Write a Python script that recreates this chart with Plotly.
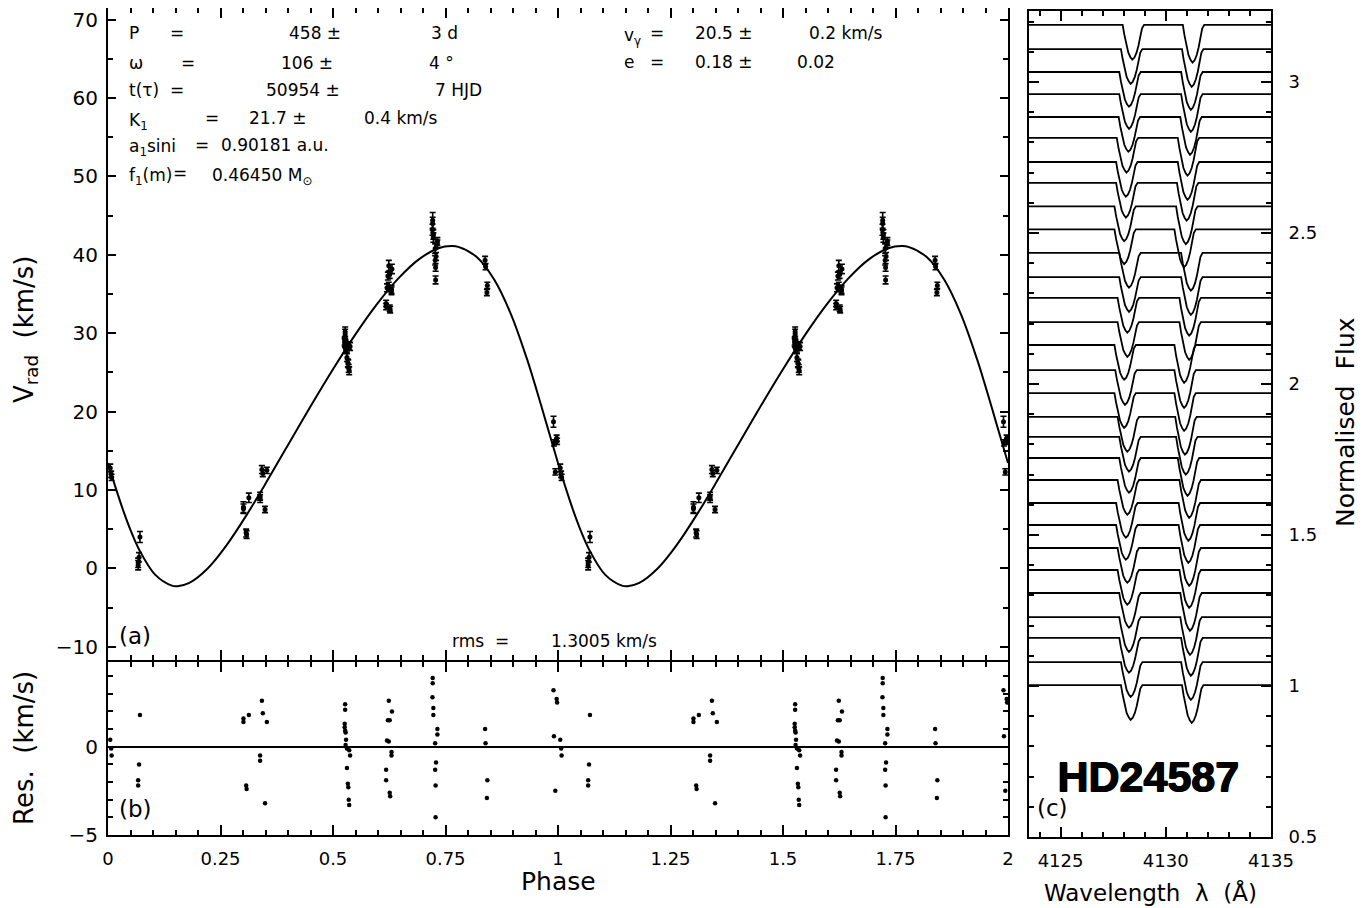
import plotly.graph_objects as go

W, H = 1367, 908
PAGE_OFFSET = 8  # the page body margin shifts the figure by this many pixels

# ---------------- Panel (a): fitted orbit curve (one cycle) ----------------
CURVE_PHASE = [0.0000, 0.0171, 0.0343, 0.0515, 0.0690, 0.1047, 0.1419, 0.1546, 0.1807, 0.2214,
               0.2640, 0.3085, 0.3547, 0.4023, 0.4509, 0.5000, 0.5491, 0.5977, 0.6453, 0.6915,
               0.7360, 0.7624, 0.7786, 0.8193, 0.8581, 0.8953, 0.9310, 0.9485, 0.9657, 0.9829, 1.0000]
CURVE_V = [13.44, 10.26, 7.30, 4.67, 2.41, -0.81, -2.21, -2.28, -1.86, -0.02,
           2.99, 6.85, 11.26, 15.96, 20.74, 25.40, 29.79, 33.71, 37.00, 39.46,
           40.87, 41.12, 41.02, 39.72, 36.85, 32.44, 26.72, 23.50, 20.16, 16.78, 13.44]

# ---------------- Observations: phase, RV, error, residual ----------------
OBS_PHASE = [0.990, 0.991, 0.994, 0.997, 0.998, 0.005, 0.007, 0.008,
             0.071, 0.069, 0.067, 0.067,
             0.301, 0.301, 0.313, 0.307, 0.308, 0.342, 0.344, 0.353, 0.338, 0.338, 0.349,
             0.527, 0.527, 0.526, 0.526, 0.527, 0.528, 0.529, 0.528, 0.531, 0.536, 0.538, 0.531,
             0.533, 0.534, 0.535, 0.536,
             0.624, 0.631, 0.622, 0.626, 0.620, 0.624, 0.630, 0.630, 0.618, 0.618, 0.626, 0.627,
             0.7215, 0.7215, 0.721, 0.723, 0.723, 0.732, 0.732, 0.727, 0.729, 0.727, 0.728, 0.728,
             0.838, 0.839, 0.843, 0.842]
OBS_V = [18.7, 16.0, 12.3, 16.6, 16.2, 12.8, 12.0, 11.6,
         4.0, 1.4, 0.7, 0.4,
         7.8, 7.6, 9.0, 4.5, 4.3, 12.6, 12.1, 12.5, 9.2, 8.9, 7.5,
         30.2, 29.9, 29.0, 28.8, 28.7, 28.6, 28.4, 28.0, 28.1, 28.4, 28.3, 26.9,
         26.2, 26.1, 25.5, 25.2,
         38.6, 38.2, 37.3, 37.5, 35.8, 36.0, 35.6, 35.4, 33.8, 33.4, 33.2, 33.0,
         44.4, 44.0, 43.2, 42.6, 42.2, 41.7, 41.4, 40.8, 39.8, 39.3, 38.4, 36.8,
         39.3, 38.5, 36.1, 35.2]
OBS_ERR = [0.7, 0.4, 0.4, 0.4, 0.4, 0.5, 0.4, 0.4,
           0.7, 0.6, 0.6, 0.6,
           0.7, 0.6, 0.6, 0.5, 0.5, 0.5, 0.4, 0.4, 0.5, 0.5, 0.4,
           0.6, 0.6, 0.5, 0.5, 0.5, 0.5, 0.5, 0.5, 0.5, 0.5, 0.5, 0.5,
           0.5, 0.5, 0.5, 0.5,
           0.7, 0.6, 0.5, 0.5, 0.5, 0.5, 0.5, 0.5, 0.4, 0.4, 0.4, 0.4,
           1.0, 0.8, 0.7, 0.6, 0.6, 0.5, 0.5, 0.6, 0.5, 0.6, 0.5, 0.5,
           0.5, 0.4, 0.4, 0.4]
OBS_RES = [3.2, 0.6, -2.5, 2.7, 2.5, 0.4, -0.1, -0.5,
           1.8, -1.0, -1.9, -2.2,
           1.6, 1.4, 1.8, -2.2, -2.4, 2.6, 1.9, 1.4, -0.5, -0.8, -3.2,
           2.4, 2.1, 1.3, 1.1, 0.9, 0.8, 0.4, 0.1, -0.1, -0.2, -0.5, -1.2,
           -2.1, -2.3, -3.0, -3.3,
           2.6, 2.0, 1.5, 1.5, 0.35, 0.3, -0.3, -0.5, -1.3, -1.9, -2.6, -2.8,
           3.9, 3.6, 2.8, 2.2, 1.8, 1.0, 0.7, 0.2, -0.9, -1.3, -2.2, -4.0,
           1.0, 0.2, -1.9, -2.9]

PHASE_TICKS = [0, 0.25, 0.5, 0.75, 1, 1.25, 1.5, 1.75, 2]
PHASE_LABELS = ["0", "0.25", "0.5", "0.75", "1", "1.25", "1.5", "1.75", "2"]
VRAD_TICKS = [-10, 0, 10, 20, 30, 40, 50, 60, 70]
RES_TICKS = [-5, 0]

# ---------------- Panel (c): spectra ----------------
# continuum level of each spectrum (top to bottom) and line-core wavelengths
SPEC_CONT = [3.189, 3.109, 3.033, 2.960, 2.884, 2.815, 2.735, 2.666, 2.588, 2.512,
             2.434, 2.354, 2.285, 2.205, 2.129, 2.046, 1.970, 1.891, 1.825, 1.755,
             1.682, 1.606, 1.533, 1.457, 1.384, 1.308, 1.228, 1.159, 1.079, 1.003]
SPEC_L1 = [4128.41, 4128.33, 4128.25, 4128.25, 4128.22, 4128.13, 4128.10, 4128.10, 4128.02, 4128.02,
           4128.25, 4128.25, 4128.17, 4128.17, 4128.02, 4128.06, 4128.02, 4128.17, 4128.25, 4128.25,
           4128.17, 4128.10, 4128.10, 4128.17, 4128.17, 4128.25, 4128.25, 4128.25, 4128.33, 4128.33]
SPEC_L2 = [4131.27, 4131.23, 4131.19, 4131.19, 4131.15, 4131.03, 4131.03, 4130.99, 4130.95, 4130.87,
           4131.19, 4131.19, 4131.11, 4131.11, 4130.87, 4130.87, 4130.87, 4130.91, 4130.95, 4131.03,
           4131.11, 4131.07, 4131.07, 4131.11, 4131.11, 4131.15, 4131.15, 4131.19, 4131.19, 4131.23]
LINE_DEPTH = [0.115, 0.125]
# line profile shape (offset from core in Angstrom, fraction of depth)
PROFILE_DX = [-0.46, -0.38, -0.29, -0.19, -0.09, 0.0, 0.10, 0.20, 0.29, 0.37, 0.46, 0.56]
PROFILE_FRAC = [0.0, 0.28, 0.58, 0.80, 0.93, 1.0, 0.94, 0.80, 0.60, 0.34, 0.10, 0.0]
WL_RANGE = [4123.5, 4135.0]
WL_TICKS = [4125, 4130, 4135]
FLUX_TICKS = [0.5, 1, 1.5, 2, 2.5, 3]
FLUX_LABELS = ["0.5", "1", "1.5", "2", "2.5", "3"]

# ---------------- Figure ----------------
FONT = "DejaVu Sans"
fig = go.Figure()

# curve over two cycles
cx = CURVE_PHASE + [p + 1 for p in CURVE_PHASE[1:]]
cy = CURVE_V + CURVE_V[1:]
fig.add_trace(go.Scatter(x=cx, y=cy, mode="lines", line=dict(color="black", width=2, shape="spline"),
                         xaxis="x", yaxis="y", hoverinfo="skip"))

ox = OBS_PHASE + [p + 1 for p in OBS_PHASE]
fig.add_trace(go.Scatter(x=ox, y=OBS_V + OBS_V, mode="markers",
                         marker=dict(color="black", size=5),
                         error_y=dict(type="data", array=OBS_ERR + OBS_ERR, color="black",
                                      thickness=1.6, width=3),
                         xaxis="x", yaxis="y"))

fig.add_trace(go.Scatter(x=ox, y=OBS_RES + OBS_RES, mode="markers",
                         marker=dict(color="black", size=4.5),
                         xaxis="x2", yaxis="y2"))

# spectra
sx, sy = [], []
for cont, l1, l2 in zip(SPEC_CONT, SPEC_L1, SPEC_L2):
    xs = [WL_RANGE[0]]
    ys = [cont]
    for core, depth in ((l1, LINE_DEPTH[0]), (l2, LINE_DEPTH[1])):
        for dx, fr in zip(PROFILE_DX, PROFILE_FRAC):
            xs.append(core + dx)
            ys.append(cont - depth * fr)
    xs.append(WL_RANGE[1])
    ys.append(cont)
    sx += xs + [None]
    sy += ys + [None]
fig.add_trace(go.Scatter(x=sx, y=sy, mode="lines", line=dict(color="black", width=1.8),
                         xaxis="x3", yaxis="y3", hoverinfo="skip"))

# pixel geometry -> paper fractions (compensating the page offset)
def fx(X):
    return (X - PAGE_OFFSET) / W

def fy(Y):
    return 1 - (Y - PAGE_OFFSET) / H

axis_common = dict(showline=True, linewidth=2, linecolor="black", mirror="ticks", ticks="inside",
                   tickcolor="black", tickwidth=1.5, showgrid=False, automargin=False,
                   ticklabeloverflow="allow")

def minor(dt):
    return dict(dtick=dt, ticklen=5, ticks="inside", tickcolor="black", tickwidth=1.5)

fig.update_layout(
    width=W, height=H, margin=dict(l=0, r=0, t=0, b=0, pad=0, autoexpand=False),
    paper_bgcolor="white", plot_bgcolor="white", showlegend=False,
    font=dict(family=FONT, color="black"),
    xaxis=dict(domain=[fx(108), fx(1008)], anchor="y", range=[0, 2], tickvals=PHASE_TICKS,
               showticklabels=False, ticklen=10, minor=minor(0.05), zeroline=False, **axis_common),
    xaxis2=dict(domain=[fx(108), fx(1008)], anchor="y2", range=[0, 2], matches="x",
                tickvals=PHASE_TICKS, ticktext=PHASE_LABELS, ticklen=10,
                tickfont=dict(size=18, family=FONT), ticklabelstandoff=6,
                minor=minor(0.05), zeroline=False, **axis_common),
    yaxis=dict(domain=[fy(660), fy(8)], anchor="x", range=[-11.7, 71.5], tickvals=VRAD_TICKS,
               ticklen=8, tickfont=dict(size=20, family=FONT), ticklabelstandoff=4,
               minor=minor(5), zeroline=False, **axis_common),
    yaxis2=dict(domain=[fy(835), fy(662)], anchor="x2", range=[-5, 4.8], tickvals=RES_TICKS,
                ticktext=["\u22125", "0"], ticklen=8, tickfont=dict(size=20, family=FONT),
                ticklabelstandoff=4, minor=minor(1),
                zeroline=True, zerolinecolor="black", zerolinewidth=1.6, **axis_common),
    xaxis3=dict(domain=[fx(1029), fx(1271)], anchor="y3", range=WL_RANGE, tickvals=WL_TICKS,
                ticklen=10, tickfont=dict(size=18, family=FONT), ticklabelstandoff=6,
                minor=minor(1), zeroline=False, **axis_common),
    yaxis3=dict(domain=[fy(837), fy(11)], anchor="x3", side="right", range=[0.5, 3.235],
                tickvals=FLUX_TICKS, ticktext=FLUX_LABELS, ticklen=10,
                tickfont=dict(size=18, family=FONT), ticklabelstandoff=12,
                minor=minor(0.1), zeroline=False, **axis_common),
)

anns = []

def ann(text, X, Y, size=17, xanchor="center", angle=0, family=FONT, **kw):
    d = dict(text=text, x=fx(X), y=fy(Y), xref="paper", yref="paper", showarrow=False,
             xanchor=xanchor, yanchor="middle", textangle=angle,
             font=dict(family=family, size=size, color="black"))
    d.update(kw)
    anns.append(d)

# parameter block (left)
ann("P", 127, 33, xanchor="left"); ann("=", 177, 33); ann("458 \u00b1", 315, 33); ann("3 d", 444, 33)
ann("\u03c9", 127, 63, xanchor="left"); ann("=", 188, 63); ann("106 \u00b1", 307, 63); ann("4 \u00b0", 441, 63)
ann("t(\u03c4)", 127, 90, xanchor="left"); ann("=", 177, 90); ann("50954 \u00b1", 303, 90); ann("7 HJD", 458, 90)
ann("K<sub>1</sub>", 127, 121, xanchor="left"); ann("=", 212, 118); ann("21.7 \u00b1", 278, 118); ann("0.4 km/s", 401, 118)
ann("a<sub>1</sub>sini", 127, 148, xanchor="left"); ann("=", 202, 145); ann("0.90181 a.u.", 275, 145)
ann("f<sub>1</sub>(m)", 127, 176, xanchor="left"); ann("=", 180, 173); ann("0.46450 M<sub>\u2299</sub>", 262, 176)
# parameter block (right)
ann("v<sub>\u03b3</sub>", 622, 36, xanchor="left"); ann("=", 657, 33); ann("20.5 \u00b1", 724, 33); ann("0.2 km/s", 846, 33)
ann("e", 622, 62, xanchor="left"); ann("=", 657, 62); ann("0.18 \u00b1", 724, 62); ann("0.02", 816, 62)
# rms
ann("rms  =", 480, 641); ann("1.3005 km/s", 604, 641)
# panel letters
ann("(a)", 135, 636, size=23); ann("(b)", 135, 809, size=23); ann("(c)", 1052, 808, size=23)
# axis titles
ann("V<sub>rad</sub>  (km/s)", 25, 330, size=26, angle=-90)
ann("Res.  (km/s)", 24, 748, size=26, angle=-90)
ann("Phase", 558, 881, size=25)
ann("Wavelength  \u03bb  (\u00c5)", 1150, 892, size=23)
ann("Normalised  Flux", 1345, 422, size=25, angle=-90)
# star name (heavy bold)
for dx, dy in ((0, 0), (1, 0), (0, 1), (1, 1)):
    ann("<b>HD24587</b>", 1148, 777, size=43, family="Liberation Sans", xshift=dx, yshift=dy)

fig.update_layout(annotations=anns)
fig.write_html("out.html")
